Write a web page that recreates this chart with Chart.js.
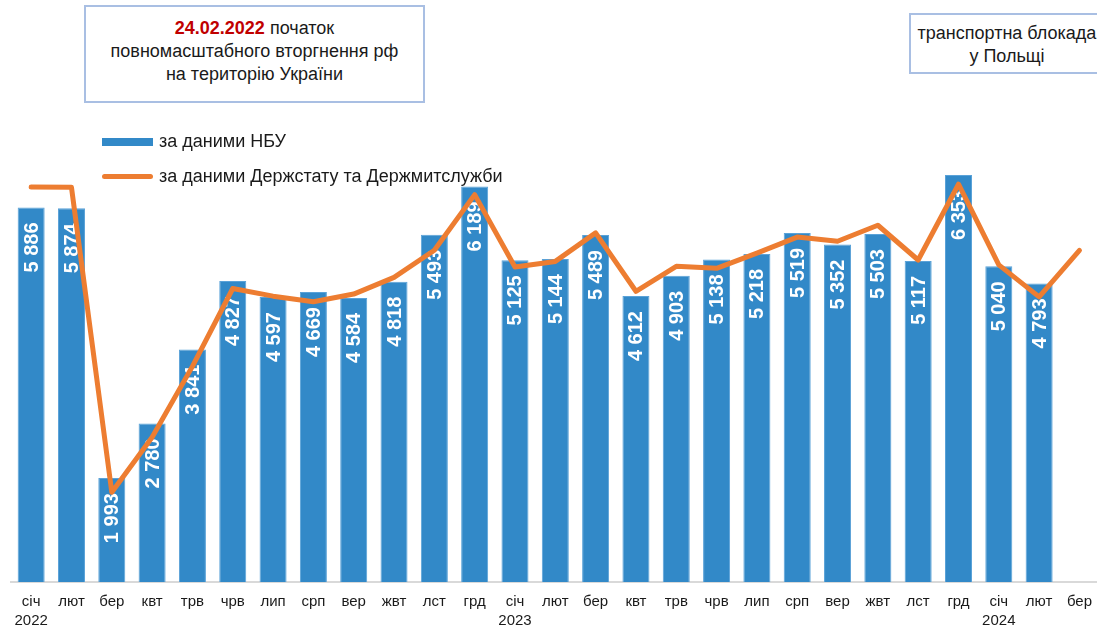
<!DOCTYPE html>
<html lang="uk">
<head>
<meta charset="utf-8">
<script src="https://cdn.jsdelivr.net/npm/chart.js@4/dist/chart.umd.min.js"></script>
<style>
  html, body { margin: 0; padding: 0; background: #fff; overflow: hidden; }
  #wrap { position: relative; width: 1097px; height: 629px; overflow: hidden; font-family: "Liberation Sans", Arial, sans-serif; color: #1a1a1a; }
  #chart { position: absolute; left: 0; top: 0; }
  .note { position: absolute; border: 2px solid #a9bfe3; background: #fff; text-align: center; font-size: 18px; line-height: 23px; box-sizing: border-box; }
  .note b { color: #c00000; }
  #note-war { left: 84px; top: 5px; width: 341px; height: 98px; padding-top: 10px; }
  #note-block { left: 909px; top: 13px; width: 196px; height: 61px; padding-top: 7px; }
  .legend { position: absolute; left: 102px; font-size: 18px; display: flex; align-items: center; }
  .legend .swatch { width: 51px; margin-right: 6px; }
  #leg-bar { top: 131px; }
  #leg-bar .swatch { height: 8px; background: #3289c8; }
  #leg-line { top: 166px; }
  #leg-line .swatch { height: 5px; background: #ed7d31; border-radius: 3px; }
</style>
</head>
<body>
<div id="wrap">
  <!-- canvas a touch wider than the window: the original plot runs off the right edge -->
  <canvas id="chart" width="1102" height="629"></canvas>
  <div class="note" id="note-war"><b>24.02.2022</b> початок<br>повномасштабного вторгнення рф<br>на територію України</div>
  <div class="note" id="note-block">транспортна блокада<br>у Польщі</div>
  <div class="legend" id="leg-bar"><span class="swatch"></span>за даними НБУ</div>
  <div class="legend" id="leg-line"><span class="swatch"></span>за даними Держстату та Держмитслужби</div>
</div>
<script>
// ---- data ----
const months = ['січ', 'лют', 'бер', 'квт', 'трв', 'чрв', 'лип', 'срп', 'вер', 'жвт', 'лст', 'грд',
                'січ', 'лют', 'бер', 'квт', 'трв', 'чрв', 'лип', 'срп', 'вер', 'жвт', 'лст', 'грд',
                'січ', 'лют', 'бер'];
const years = ['2022', '', '', '', '', '', '', '', '', '', '', '',
               '2023', '', '', '', '', '', '', '', '', '', '', '',
               '2024', '', ''];

// НБУ (bars)
const nbuValues = [5886, 5874, 1993, 2780, 3841, 4827, 4597, 4669, 4584, 4818, 5493, 6189,
                   5125, 5144, 5489, 4612, 4903, 5138, 5218, 5519, 5352, 5503, 5117, 6353,
                   5040, 4793, null];

// Держстат та Держмитслужба (line)
const statValues = [6180, 6175, 1790, 2580, 3600, 4720, 4610, 4530, 4640, 4880, 5270, 6070,
                    5030, 5110, 5520, 4680, 5040, 5010, 5230, 5460, 5400, 5630, 5130, 6220,
                    5060, 4600, 5270];

const yMin = 500;
const yMax = 7000;

const fmt = v => String(v).replace(/\B(?=(\d{3})+(?!\d))/g, ' ');

// white rotated labels inside the bars, drawn before the line goes on top
const barLabels = {
    id: 'barLabels',
    afterDatasetDraw(chart, args) {
        if (args.index !== 0) return;
        const ctx = chart.ctx;
        args.meta.data.forEach((bar, i) => {
            const v = nbuValues[i];
            if (v == null) return;
            ctx.save();
            ctx.translate(bar.x, bar.y + 15);
            ctx.rotate(-Math.PI / 2);
            ctx.font = 'bold 20px "Liberation Sans", Arial, sans-serif';
            ctx.fillStyle = '#ffffff';
            ctx.textAlign = 'right';
            ctx.textBaseline = 'middle';
            ctx.fillText(fmt(v), 0, 1);
            ctx.restore();
        });
    }
};

const labels = months.map((m, i) => [m, years[i]]);

new Chart(document.getElementById('chart'), {
    type: 'bar',
    data: {
        labels: labels,
        datasets: [
            {
                type: 'bar',
                label: 'за даними НБУ',
                data: nbuValues,
                backgroundColor: '#3289c8',
                borderColor: '#5aa2d8',
                borderWidth: 1,
                categoryPercentage: 1,
                barPercentage: 0.67,
                order: 2
            },
            {
                type: 'line',
                label: 'за даними Держстату та Держмитслужби',
                data: statValues,
                borderColor: '#ed7d31',
                borderWidth: 5,
                borderCapStyle: 'round',
                borderJoinStyle: 'round',
                pointRadius: 0,
                tension: 0,
                order: 1
            }
        ]
    },
    options: {
        responsive: false,
        maintainAspectRatio: false,
        animation: false,
        devicePixelRatio: 1,
        layout: { padding: { left: 11, right: 0, top: 130, bottom: -11 } },
        plugins: {
            legend: { display: false },
            tooltip: { enabled: false }
        },
        scales: {
            x: {
                grid: { display: false, drawTicks: false },
                border: { display: true, color: '#d9d9d9', width: 2 },
                ticks: {
                    color: '#1a1a1a',
                    font: { family: '"Liberation Sans", Arial, sans-serif', size: 15, lineHeight: 1.27 },
                    padding: 10,
                    maxRotation: 0,
                    autoSkip: false
                }
            },
            y: {
                display: false,
                min: yMin,
                max: yMax
            }
        }
    },
    plugins: [barLabels]
});
</script>
</body>
</html>
